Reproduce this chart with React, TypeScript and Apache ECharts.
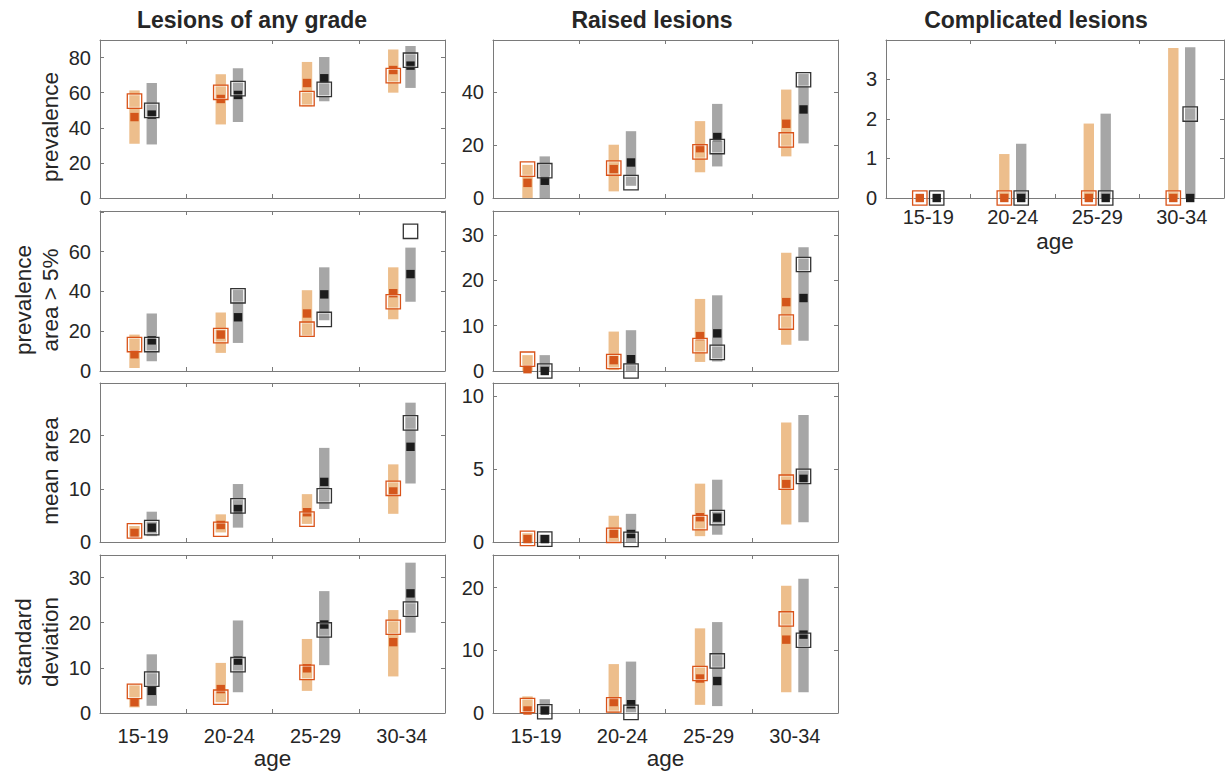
import React, { useEffect, useRef } from 'react';
import * as echarts from 'echarts';

// ---- data ----
const ages = ['15-19', '20-24', '25-29', '30-34'];

// rows per age: [lower, upper, estimate (filled square), observed (open square)]
const anyPrevOrange = [[30.9, 61.3, 46.1, 55.2], [41.9, 70.5, 56.4, 60.2], [52.2, 77.5, 65.5, 56.6], [60.0, 84.6, 72.9, 69.7]];
const anyPrevGray = [[30.5, 65.5, 47.5, 49.9], [43.3, 73.9, 58.7, 62.3], [55.1, 80.3, 68.2, 61.9], [62.7, 86.6, 75.4, 78.5]];

const raisedPrevOrange = [[0, 12.5, 5.7, 10.9], [2.5, 20.1, 10.9, 11.3], [9.7, 29.0, 18.8, 17.4], [15.7, 40.9, 28.0, 21.9]];
const raisedPrevGray = [[0, 15.7, 6.5, 10.3], [4.6, 25.2, 13.4, 5.8], [11.9, 35.5, 23.0, 19.4], [20.6, 46.9, 33.4, 44.6]];

const complPrevOrange = [[0, 0, 0, 0], [0, 1.11, 0, 0], [0, 1.88, 0, 0], [0, 3.79, 0, 0]];
const complPrevGray = [[0, 0, 0, 0], [0, 1.37, 0, 0], [0, 2.13, 0, 0], [0, 3.81, 0, 2.12]];

const anyArea5Orange = [[1.5, 18.3, 8.4, 13.3], [9.1, 29.4, 18.3, 17.8], [17.5, 40.6, 28.9, 21.0], [26.0, 52.1, 39.1, 34.8]];
const anyArea5Gray = [[4.9, 28.9, 15.4, 13.3], [14.1, 41.0, 27.0, 37.8], [25.5, 52.1, 38.5, 25.9], [34.8, 62.0, 48.7, 70.2]];

const raisedArea5Orange = [[0, 3.5, 0.4, 2.6], [0.2, 8.7, 2.4, 2.1], [2.0, 15.9, 7.7, 5.6], [5.8, 26.1, 15.2, 10.8]];
const raisedArea5Gray = [[0, 3.5, 0, 0], [0, 9.0, 2.6, 0], [2.1, 16.7, 8.3, 4.1], [6.7, 27.3, 16.1, 23.5]];

const anyMeanOrange = [[0.9, 3.0, 1.7, 2.1], [1.8, 5.2, 3.2, 2.4], [3.4, 9.0, 5.6, 4.3], [5.3, 14.6, 9.5, 10.1]];
const anyMeanGray = [[1.1, 5.7, 2.7, 2.7], [2.7, 10.9, 6.2, 6.8], [6.2, 17.7, 11.3, 8.7], [11.0, 26.2, 17.9, 22.4]];

const raisedMeanOrange = [[0, 0.6, 0.2, 0.25], [0, 1.8, 0.57, 0.46], [0.4, 4.0, 1.7, 1.33], [1.2, 8.2, 3.97, 4.1]];
const raisedMeanGray = [[0, 0.5, 0.2, 0.2], [0, 1.93, 0.55, 0.18], [0.5, 4.27, 1.67, 1.67], [1.35, 8.7, 4.33, 4.5]];

const anySdOrange = [[1.25, 6.3, 2.4, 4.8], [2.4, 11.1, 5.3, 3.5], [4.9, 16.4, 9.9, 9.0], [8.1, 22.8, 15.7, 19.0]];
const anySdGray = [[1.6, 13.0, 4.9, 7.5], [4.6, 20.5, 11.6, 10.7], [10.6, 27.0, 19.6, 18.4], [17.8, 33.3, 26.5, 23.0]];

const raisedSdOrange = [[0, 2.65, 0.4, 1.2], [0, 7.8, 1.75, 1.3], [1.3, 13.5, 5.5, 6.3], [3.3, 20.3, 11.7, 15.0]];
const raisedSdGray = [[0, 2.2, 0.4, 0.2], [0.1, 8.2, 1.4, 0.1], [1.1, 14.5, 5.1, 8.3], [3.3, 21.4, 12.5, 11.6]];

// y ranges and tick labels
const anyPrevTicks = [0, 20, 40, 60, 80];
const raisedPrevTicks = [0, 20, 40];
const complPrevTicks = [0, 1, 2, 3];
const anyArea5Ticks = [0, 20, 40, 60];
const raisedArea5Ticks = [0, 10, 20, 30];
const anyMeanTicks = [0, 10, 20];
const raisedMeanTicks = [0, 5, 10];
const anySdTicks = [0, 10, 20, 30];
const raisedSdTicks = [0, 10, 20];

const columnTitles = ['Lesions of any grade', 'Raised lesions', 'Complicated lesions'];
const rowLabels = ['prevalence', 'prevalence\narea > 5%', 'mean area', 'standard\ndeviation'];

const panels = [
  { orange: anyPrevOrange, gray: anyPrevGray, ticks: anyPrevTicks, max: 90, interval: 20, col: 0, row: 0, xLabels: false },
  { orange: raisedPrevOrange, gray: raisedPrevGray, ticks: raisedPrevTicks, max: 59.6, interval: 20, col: 1, row: 0, xLabels: false },
  { orange: complPrevOrange, gray: complPrevGray, ticks: complPrevTicks, max: 3.99, interval: 1, col: 2, row: 0, xLabels: true },
  { orange: anyArea5Orange, gray: anyArea5Gray, ticks: anyArea5Ticks, max: 80.4, interval: 20, col: 0, row: 1, xLabels: false },
  { orange: raisedArea5Orange, gray: raisedArea5Gray, ticks: raisedArea5Ticks, max: 35.3, interval: 10, col: 1, row: 1, xLabels: false },
  { orange: anyMeanOrange, gray: anyMeanGray, ticks: anyMeanTicks, max: 29.9, interval: 10, col: 0, row: 2, xLabels: false },
  { orange: raisedMeanOrange, gray: raisedMeanGray, ticks: raisedMeanTicks, max: 10.9, interval: 5, col: 1, row: 2, xLabels: false },
  { orange: anySdOrange, gray: anySdGray, ticks: anySdTicks, max: 35, interval: 10, col: 0, row: 3, xLabels: true },
  { orange: raisedSdOrange, gray: raisedSdGray, ticks: raisedSdTicks, max: 25.2, interval: 10, col: 1, row: 3, xLabels: true },
];

// ---- layout / style ----
const COL_LEFT = [100, 493, 886];
const COL_WIDTH = [345, 345, 338];
const ROW_TOP = [40, 211, 383, 555];
const ROW_HEIGHT = [158, 160, 159, 158];
const FONT = '"Liberation Sans", Arial, Helvetica, sans-serif';
const AXIS_COLOR = '#7a7a7a';
const TEXT_COLOR = '#262626';

const ORANGE_BAR = '#EDBE8C';
const ORANGE_DARK = '#D4561B';
const ORANGE_EDGE = '#D95319';
const GRAY_BAR = '#A6A6A6';
const GRAY_DARK = '#1C1C1C';
const GRAY_EDGE = '#333333';

function makeRenderItem(offsetFrac: number, barColor: string, dark: string, edge: string) {
  return (params: any, api: any) => {
    const cat = api.value(0);
    const lo = api.value(1);
    const hi = api.value(2);
    const est = api.value(3);
    const obs = api.value(4);
    const bandW = api.size([1, 0])[0];
    const cx = api.coord([cat, 0])[0] + offsetFrac * bandW;
    const yLo = api.coord([cat, lo])[1];
    const yHi = api.coord([cat, hi])[1];
    const yEst = api.coord([cat, est])[1];
    const yObs = api.coord([cat, obs])[1];
    const children: any[] = [];
    if (yLo - yHi > 0.5) {
      children.push({
        type: 'rect',
        shape: { x: cx - 5.2, y: yHi, width: 10.4, height: yLo - yHi },
        style: { fill: barColor },
      });
    }
    children.push({
      type: 'rect',
      shape: { x: cx - 4.2, y: yEst - 4.2, width: 8.4, height: 8.4 },
      style: { fill: dark },
    });
    children.push({
      type: 'rect',
      shape: { x: cx - 6.2, y: yObs - 6.2, width: 12.4, height: 12.4 },
      style: { fill: 'none', stroke: 'rgba(255,255,255,0.6)', lineWidth: 1 },
    });
    children.push({
      type: 'rect',
      shape: { x: cx - 7.2, y: yObs - 7.2, width: 14.4, height: 14.4 },
      style: { fill: 'none', stroke: edge, lineWidth: 1.3 },
    });
    return { type: 'group', children };
  };
}

function buildOption() {
  const grid: any[] = [];
  const xAxis: any[] = [];
  const yAxis: any[] = [];
  const series: any[] = [];

  panels.forEach((p, i) => {
    grid.push({
      left: COL_LEFT[p.col],
      top: ROW_TOP[p.row],
      width: COL_WIDTH[p.col],
      height: ROW_HEIGHT[p.row],
      containLabel: false,
    });
    const tick = { show: true, inside: true, length: 4, lineStyle: { color: AXIS_COLOR, width: 1 } };
    const line = { show: true, onZero: false, lineStyle: { color: AXIS_COLOR, width: 1 } };
    const isCompl = p.col === 2;
    xAxis.push({
      gridIndex: i,
      type: 'category',
      data: ages,
      boundaryGap: true,
      position: 'bottom',
      axisLine: line,
      axisTick: tick,
      axisLabel: {
        show: p.xLabels,
        color: TEXT_COLOR,
        fontSize: 20,
        fontFamily: FONT,
        margin: isCompl ? 9 : 13,
      },
      name: p.xLabels ? 'age' : '',
      nameLocation: 'middle',
      nameGap: isCompl ? 32 : 34,
      nameTextStyle: { color: TEXT_COLOR, fontSize: 22.5, fontFamily: FONT },
      splitLine: { show: false },
    });
    xAxis.push({
      gridIndex: i,
      type: 'category',
      data: ages,
      boundaryGap: true,
      position: 'top',
      axisLine: line,
      axisTick: tick,
      axisLabel: { show: false },
      splitLine: { show: false },
    });
    const ticks = p.ticks;
    yAxis.push({
      gridIndex: i,
      type: 'value',
      min: 0,
      max: p.max,
      interval: p.interval,
      position: 'left',
      axisLine: line,
      axisTick: tick,
      splitLine: { show: false },
      axisLabel: {
        show: true,
        color: TEXT_COLOR,
        fontSize: 20,
        fontFamily: FONT,
        margin: 9,
        formatter: (v: number) => (ticks.some((t) => Math.abs(t - v) < 1e-9) ? String(v) : ''),
      },
    });
    yAxis.push({
      gridIndex: i,
      type: 'value',
      min: 0,
      max: p.max,
      interval: p.interval,
      position: 'right',
      axisLine: line,
      axisTick: tick,
      splitLine: { show: false },
      axisLabel: { show: false },
    });

    const toData = (rows: number[][]) => rows.map((r, k) => [k, r[0], r[1], r[2], r[3]]);
    series.push({
      type: 'custom',
      xAxisIndex: i * 2,
      yAxisIndex: i * 2,
      renderItem: makeRenderItem(-0.1, ORANGE_BAR, ORANGE_DARK, ORANGE_EDGE),
      encode: { x: 0, y: [1, 2] },
      data: toData(p.orange),
      clip: false,
      silent: true,
    });
    series.push({
      type: 'custom',
      xAxisIndex: i * 2,
      yAxisIndex: i * 2,
      renderItem: makeRenderItem(0.1, GRAY_BAR, GRAY_DARK, GRAY_EDGE),
      encode: { x: 0, y: [1, 2] },
      data: toData(p.gray),
      clip: false,
      silent: true,
    });
  });

  const titleX = [252, 652, 1036];
  const graphic: any[] = [];
  columnTitles.forEach((t, c) => {
    graphic.push({
      type: 'text',
      x: titleX[c],
      y: 20,
      style: {
        text: t,
        fill: TEXT_COLOR,
        fontSize: 23,
        fontWeight: 'bold',
        fontFamily: FONT,
        align: 'center',
        verticalAlign: 'middle',
      },
    });
  });
  const labelPos = [
    [50, 127],
    [37, 300],
    [50, 471],
    [37, 642],
  ];
  rowLabels.forEach((t, r) => {
    graphic.push({
      type: 'text',
      x: labelPos[r][0],
      y: labelPos[r][1],
      rotation: Math.PI / 2,
      style: {
        text: t,
        fill: TEXT_COLOR,
        fontSize: 22.5,
        fontFamily: FONT,
        align: 'center',
        verticalAlign: 'middle',
        lineHeight: 27,
      },
    });
  });

  return {
    animation: false,
    backgroundColor: '#ffffff',
    grid,
    xAxis,
    yAxis,
    series,
    graphic,
  };
}

export default function App() {
  const ref = useRef<HTMLDivElement>(null);
  useEffect(() => {
    if (!ref.current) return;
    const chart = echarts.init(ref.current, undefined, { renderer: 'svg' });
    chart.setOption(buildOption() as any);
    return () => chart.dispose();
  }, []);
  return (
    <div
      ref={ref}
      style={{ position: 'absolute', left: 0, top: 0, width: 1225, height: 772 }}
    />
  );
}
